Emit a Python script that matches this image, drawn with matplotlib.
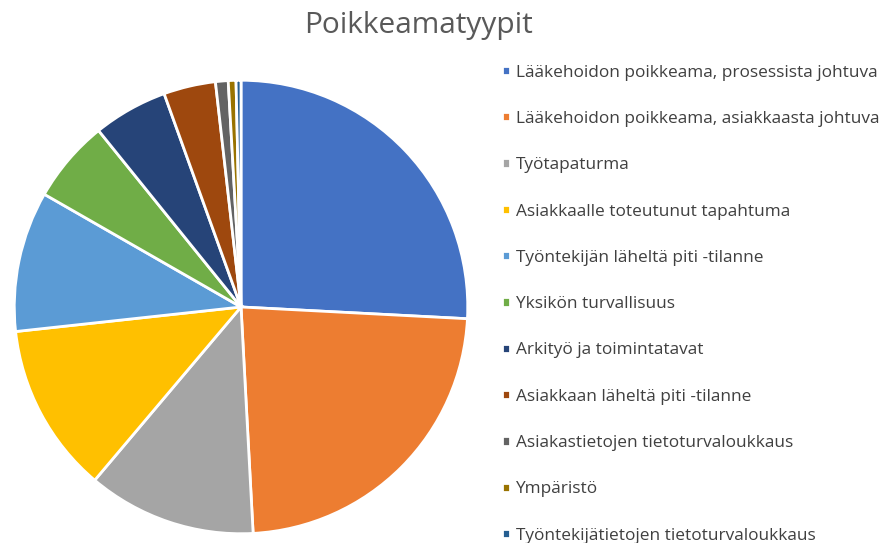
import matplotlib.pyplot as plt

# slice shares (percent)
labels = [
    "Lääkehoidon poikkeama, prosessista johtuva",
    "Lääkehoidon poikkeama, asiakkaasta johtuva",
    "Työtapaturma",
    "Asiakkaalle toteutunut tapahtuma",
    "Työntekijän läheltä piti -tilanne",
    "Yksikön turvallisuus",
    "Arkityö ja toimintatavat",
    "Asiakkaan läheltä piti -tilanne",
    "Asiakastietojen tietoturvaloukkaus",
    "Ympäristö",
    "Työntekijätietojen tietoturvaloukkaus",
]
shares = [25.8, 23.3, 12.0, 12.1, 10.0, 5.9, 5.3, 3.7, 0.9, 0.55, 0.35]
colors = ["#4472C4", "#ED7D31", "#A5A5A5", "#FFC000", "#5B9BD5", "#70AD47",
          "#264478", "#9E480E", "#636363", "#997300", "#255E91"]

plt.rcParams['font.family'] = ['Open Sans', 'DejaVu Sans']

fig = plt.figure(figsize=(8.83, 5.43), dpi=100)
ax = fig.add_axes([0.0136, 0.0129, 0.5187, 0.8435])
wedges, _ = ax.pie(shares, colors=colors, startangle=90, counterclock=False,
                   radius=1, wedgeprops=dict(edgecolor="white", linewidth=2))
ax.set_xlim(-1.01, 1.01)
ax.set_ylim(-1.01, 1.01)
ax.set_aspect("equal")
ax.axis("off")

fig.text(0.4745, 0.953, "Poikkeamatyypit", ha="center", va="center",
         fontsize=21.5, color="#595959")

leg = fig.legend(wedges, labels, loc="upper left", bbox_to_anchor=(0.5685, 0.881),
                 frameon=False, fontsize=12.4, handlelength=0.45, handleheight=0.45,
                 handletextpad=0.35, labelspacing=1.76, borderaxespad=0, borderpad=0)
for t in leg.get_texts():
    t.set_color("#404040")

fig.savefig("out.png", dpi=100)
